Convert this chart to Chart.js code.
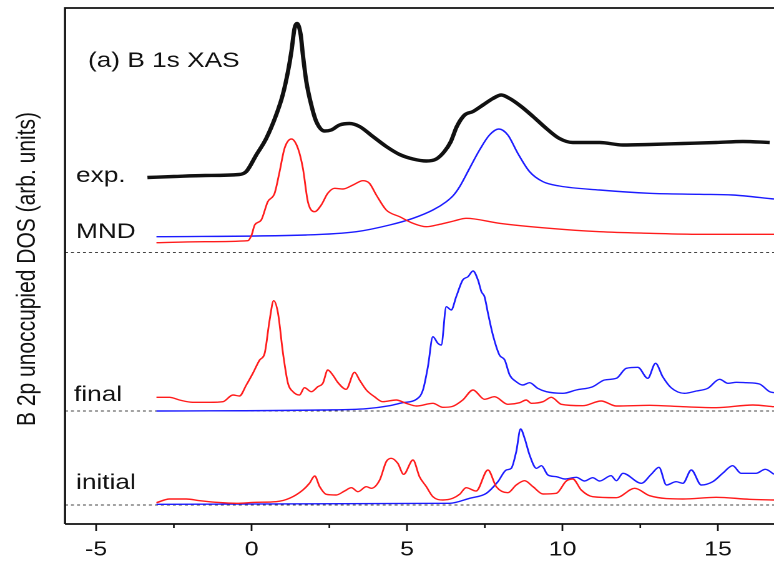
<!DOCTYPE html>
<html>
<head>
<meta charset="utf-8">
<script src="https://cdn.jsdelivr.net/npm/chart.js@4.4.1/dist/chart.umd.min.js"></script>
<style>
  html, body { margin: 0; padding: 0; background: #fff; overflow: hidden; }
  /* the figure is laid out on a narrower canvas and widened horizontally */
  #wrap { width: 620px; height: 561px; transform: scaleX(1.2484); transform-origin: 0 0; }
</style>
</head>
<body>
<div id="wrap"><canvas id="c" width="620" height="561"></canvas></div>
<script>
// Photon energy axis (eV, relative to threshold)
const X_MIN = -6, X_MAX = 16.8;
const xTicks = [-5, 0, 5, 10, 15];
const xMinorTicks = [-2.5, 2.5, 7.5, 12.5];

// Vertical offsets of the three stacked panels (arb. units)
const OFF_INITIAL = 1.9;
const OFF_FINAL = 11.3;
const OFF_TOP = 27.15;
const Y_MAX = 51.6;

// Experimental B 1s XAS
const expE = [-3.35,-2.5,-1.5,-0.4,-0.17,0.15,0.47,0.79,1.0,1.17,1.28,1.38,1.46,1.58,1.65,1.76,1.92,2.08,2.35,2.56,2.83,3.15,3.47,3.9,4.33,4.76,5.19,5.62,5.94,6.2,6.4,6.6,6.85,7.12,7.44,7.76,8.03,8.3,8.67,9.05,9.48,9.9,10.33,11.19,11.94,12.8,13.87,14.94,15.8,16.66];
const expI = [7.5,7.6,7.7,7.8,8.1,9.75,11.4,13.75,15.75,18.1,20.1,22.4,22.9,21.75,19.75,17.1,14.75,13.1,12.15,12.25,12.75,12.9,12.6,11.6,10.6,9.8,9.35,9.15,9.35,10.1,11.05,12.6,13.75,14.1,14.75,15.4,15.75,15.4,14.6,13.6,12.4,11.4,11.0,11.0,10.75,10.8,10.9,11.0,11.1,11.0];

// MND spectra
const mndRedE = [-3.06,-1.5,-0.12,0,0.1,0.31,0.52,0.74,0.9,1.06,1.28,1.49,1.65,1.81,2.03,2.24,2.45,2.67,2.94,3.26,3.58,3.79,4.01,4.33,4.76,5.19,5.62,6.05,6.5,6.9,7.97,9.58,11.19,12.8,14.4,16.8];
const mndRedI = [0.98,1.08,1.18,1.75,2.75,3.25,5.08,5.92,8.08,10.42,11.35,10.42,8.42,5.08,4.08,4.75,5.92,6.42,6.35,6.75,7.18,6.92,5.75,4.25,3.58,2.92,2.58,2.82,3.15,3.42,2.92,2.42,2.08,1.92,1.82,1.82];
const mndBlueE = [-3.06,1.76,3.37,4.44,5.19,5.83,6.26,6.5,6.69,7.01,7.33,7.65,7.95,8.24,8.56,8.94,9.37,9.9,11.19,12.8,14.4,15.47,16.8];
const mndBlueI = [1.58,1.75,2.08,2.75,3.42,4.25,5.08,5.75,6.58,8.42,10.25,11.75,12.35,11.75,9.92,8.08,7.08,6.65,6.25,5.92,5.82,5.75,5.35];

// Final-state DOS
const finalRedE = [-3.06,-2.64,-2.32,-1.89,-1.35,-0.92,-0.6,-0.39,-0.17,0.04,0.26,0.42,0.58,0.71,0.85,1.01,1.17,1.33,1.54,1.7,1.92,2.13,2.29,2.45,2.61,2.78,3.04,3.31,3.47,3.69,3.95,4.22,4.65,4.97,5.3,5.83,6.15,6.45,6.79,7.12,7.49,7.81,8.24,8.62,8.83,9.0,9.37,9.64,9.96,10.65,11.24,11.73,12.8,13.87,14.94,16.12,16.8];
const finalRedI = [1.37,1.37,1.1,0.87,0.87,0.93,1.6,1.5,2.6,3.77,5.1,5.77,9.1,11.03,9.77,5.77,2.77,1.93,1.6,2.33,1.93,2.43,2.77,4.1,3.6,2.83,2.17,3.87,3.1,2.1,1.43,0.93,1.1,0.77,0.5,0.77,0.37,0.45,1.1,2.1,1.17,1.43,0.67,0.83,1.1,0.77,0.93,1.37,0.67,0.53,1.0,0.5,0.57,0.43,0.33,0.6,0.43];
const finalBlueE = [-3.06,2.29,3.69,4.44,4.86,5.3,5.51,5.67,5.83,5.99,6.1,6.26,6.42,6.58,6.79,6.96,7.12,7.28,7.39,7.49,7.6,7.76,7.97,8.14,8.3,8.51,8.72,8.94,9.2,9.48,10.01,10.44,10.97,11.35,11.73,12.05,12.42,12.74,12.99,13.22,13.49,13.92,14.3,14.67,15.05,15.32,15.59,15.91,16.33,16.66,16.8];
const finalBlueI = [0,0.1,0.23,0.53,0.83,1.17,2.1,4.43,7.43,6.77,6.6,10.43,10.1,11.43,13.1,13.43,14.0,13.1,11.93,11.43,9.8,7.6,5.6,5.1,3.6,2.93,2.6,2.83,2.27,1.93,1.77,2.1,2.43,3.1,3.27,4.27,4.37,3.27,4.77,3.43,2.33,1.77,2.0,2.27,3.17,2.77,2.87,2.83,2.7,1.93,1.83];

// Initial-state DOS
const initRedE = [-3.06,-2.64,-2.1,-1.67,-1.14,-0.49,0.15,0.79,1.22,1.65,1.86,2.03,2.19,2.4,2.72,2.99,3.21,3.42,3.69,3.85,4.12,4.33,4.49,4.7,4.89,5.19,5.4,5.62,5.83,6.15,6.47,6.69,6.9,7.22,7.6,7.87,8.24,8.51,8.78,9.05,9.37,9.8,10.12,10.33,10.6,10.97,11.73,12.32,12.8,13.87,14.94,16.01,16.8];
const initRedI = [0.23,0.6,0.6,0.43,0.27,0.17,0.27,0.33,0.67,1.5,2.17,2.9,1.83,1.07,1.0,1.4,1.73,1.33,1.83,1.67,2.5,4.33,4.67,4.17,3.07,4.5,2.83,1.83,0.83,0.5,0.67,1.07,1.73,1.4,3.5,1.83,1.23,2.0,2.43,1.83,1.1,1.17,2.4,2.6,1.5,0.83,0.73,1.67,0.93,0.6,0.77,0.57,0.5];
const initBlueE = [-3.06,6.37,7.01,7.55,7.92,8.19,8.35,8.51,8.65,8.78,8.94,9.16,9.32,9.53,9.8,10.07,10.44,10.71,10.97,11.19,11.56,11.73,11.94,12.53,12.85,13.1,13.34,13.65,13.87,14.14,14.46,14.83,15.15,15.47,15.74,16.22,16.52,16.8];
const initBlueI = [0.07,0.17,0.67,1.17,2.33,3.5,3.67,5.33,7.6,6.67,5.0,3.67,3.93,3.0,2.83,2.6,2.77,2.4,2.73,2.4,2.93,2.43,3.17,2.17,3.07,3.77,2.0,2.33,2.17,3.5,2.0,2.33,3.17,3.93,3.17,3.17,3.57,3.07];

// Panel captions
const title = '(a) B 1s XAS';
const yTitle = 'B 2p unoccupied DOS (arb. units)';
const panelLabels = [
  { text: 'exp.',    x: 60.9, y: 182 },
  { text: 'MND',     x: 60.9, y: 238 },
  { text: 'final',   x: 59.3, y: 401 },
  { text: 'initial', x: 60.9, y: 489 }
];

const FONT = '"Liberation Sans", Arial, Helvetica, sans-serif';
const RED = '#ff1c1c';
const BLUE = '#1c1cff';
const INK = '#111';

const pts = (E, I, off) => E.map((e, i) => ({ x: e, y: I[i] + off }));
function curve(E, I, off, color, width) {
  return {
    data: pts(E, I, off), borderColor: color, borderWidth: width,
    pointRadius: 0, fill: false, cubicInterpolationMode: 'monotone'
  };
}
function baseline(off) {
  return {
    data: [{ x: X_MIN, y: off }, { x: X_MAX, y: off }],
    borderColor: '#444', borderWidth: 1, borderDash: [2.4, 2.4], pointRadius: 0
  };
}

// frame, minor ticks and captions
const decorations = {
  id: 'decorations',
  afterDraw(chart) {
    const { ctx, chartArea: a, scales: { x } } = chart;
    ctx.save();
    ctx.strokeStyle = INK;
    ctx.lineWidth = 1.7;
    ctx.beginPath();
    ctx.moveTo(a.left, a.bottom);
    ctx.lineTo(a.left, a.top);
    ctx.lineTo(a.right + 2, a.top);
    ctx.moveTo(a.left, a.bottom);
    ctx.lineTo(a.right + 2, a.bottom);
    ctx.stroke();

    ctx.lineWidth = 1.3;
    ctx.beginPath();
    xMinorTicks.forEach(v => {
      const px = x.getPixelForValue(v);
      ctx.moveTo(px, a.bottom);
      ctx.lineTo(px, a.bottom + 4);
    });
    ctx.stroke();

    ctx.fillStyle = INK;
    ctx.font = '21px ' + FONT;
    ctx.textAlign = 'left';
    ctx.textBaseline = 'alphabetic';
    ctx.fillText(title, 70.5, 67);
    panelLabels.forEach(l => ctx.fillText(l.text, l.x, l.y));

    ctx.translate(28, 269);
    ctx.rotate(-Math.PI / 2);
    ctx.textAlign = 'center';
    ctx.fillText(yTitle, 0, 0);
    ctx.restore();
  }
};

new Chart(document.getElementById('c'), {
  type: 'line',
  data: {
    datasets: [
      curve(expE, expI, OFF_TOP, INK, 3.4),
      curve(mndRedE, mndRedI, OFF_TOP, RED, 1.4),
      curve(mndBlueE, mndBlueI, OFF_TOP, BLUE, 1.4),
      curve(finalRedE, finalRedI, OFF_FINAL, RED, 1.4),
      curve(finalBlueE, finalBlueI, OFF_FINAL, BLUE, 1.4),
      curve(initRedE, initRedI, OFF_INITIAL, RED, 1.4),
      curve(initBlueE, initBlueI, OFF_INITIAL, BLUE, 1.4),
      baseline(OFF_TOP),
      baseline(OFF_FINAL),
      baseline(OFF_INITIAL)
    ]
  },
  options: {
    responsive: false,
    devicePixelRatio: 2,
    animation: false,
    events: [],
    layout: { padding: { left: 52.07, top: 8, right: 0, bottom: 0 } },
    plugins: { legend: { display: false }, tooltip: { enabled: false } },
    scales: {
      x: {
        type: 'linear', min: X_MIN, max: X_MAX, position: 'bottom',
        afterFit(s) { s.height = 37; },
        afterBuildTicks(s) { s.ticks = xTicks.map(v => ({ value: v })); },
        ticks: { color: INK, font: { family: FONT, size: 20 }, padding: 7, maxRotation: 0, autoSkip: false },
        grid: { drawOnChartArea: false, drawTicks: true, tickLength: 7, tickWidth: 1.4, tickColor: INK, color: INK },
        border: { display: false }
      },
      y: { display: false, min: 0, max: Y_MAX }
    }
  },
  plugins: [decorations]
});
</script>
</body>
</html>
